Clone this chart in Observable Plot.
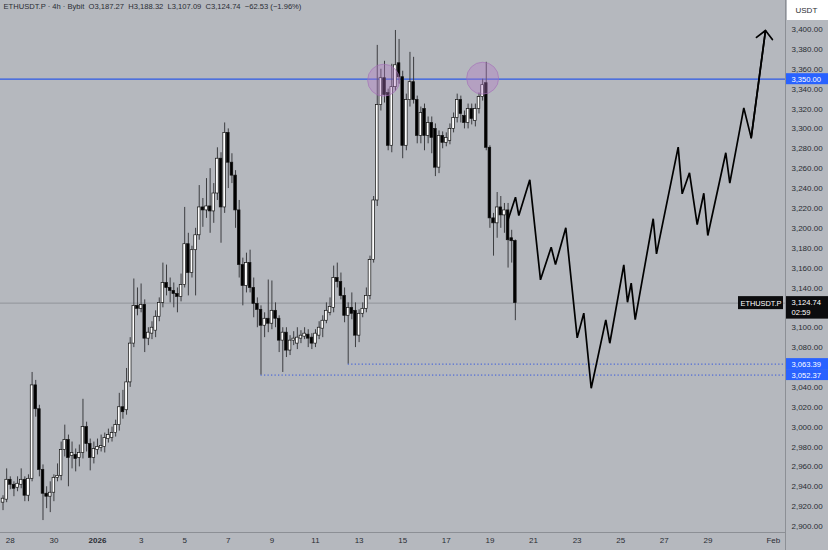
<!DOCTYPE html>
<html><head><meta charset="utf-8">
<script src="https://cdn.jsdelivr.net/npm/d3@7"></script>
<script src="https://cdn.jsdelivr.net/npm/@observablehq/plot@0.6"></script>
<style>
html,body{margin:0;padding:0;background:#b5b8be;}
#chart svg{display:block;}
</style></head><body><div id="chart"></div>
<script>
// ---- Data ----
const header = "ETHUSDT.P · 4h · Bybit  O3,187.27  H3,188.32  L3,107.09  C3,124.74  −62.53 (−1.96%)";
const firstBar = "2025-12-27T16:00:00Z";
const barHours = 4;
const opens = [2924,2927,2947,2942,2939,2942,2947,2931,2948,3042,3018,2957,2933,2930,2934,2949,2951,2977,2987,2971,2972,2969,2974,3000,2983,2969,2977,2979,2980,2988,2989,2994,3002,3020,3017,3045,3084,3122,3119,3123,3089,3094,3097,3111,3125,3145,3140,3137,3134,3131,3143,3184,3155,3178,3193,3221,3218,3222,3217,3235,3270,3221,3296,3266,3253,3218,3163,3142,3165,3140,3124,3118,3102,3109,3104,3117,3109,3087,3095,3077,3087,3084,3089,3091,3093,3090,3084,3092,3099,3107,3115,3120,3150,3146,3132,3112,3120,3117,3092,3114,3119,3132,3168,3228,3324,3351,3336,3283,3342,3366,3352,3283,3329,3347,3329,3293,3320,3293,3306,3300,3261,3293,3286,3288,3300,3311,3329,3313,3306,3320,3308,3320,3332,3346,3281,3210,3205,3221,3213,3218,3190,3187.27];
const highs = [2931,2958,2950,2945,2950,2958,2950,2952,3055,3047,3022,2962,2940,2945,2952,2963,2985,3002,2992,2985,2978,2982,3028,3005,2988,2985,2988,2992,2994,2998,3000,3007,3034,3037,3059,3090,3149,3140,3144,3128,3100,3106,3117,3130,3165,3163,3150,3145,3140,3154,3221,3195,3182,3200,3243,3230,3250,3260,3245,3281,3276,3306,3300,3275,3258,3228,3170,3175,3178,3150,3130,3122,3115,3148,3147,3125,3112,3100,3100,3092,3096,3100,3097,3100,3098,3094,3098,3106,3112,3125,3130,3162,3165,3155,3140,3125,3135,3125,3118,3125,3140,3172,3232,3384,3360,3368,3340,3365,3399,3390,3358,3335,3377,3372,3333,3322,3325,3312,3312,3305,3298,3297,3296,3305,3316,3335,3333,3318,3325,3325,3325,3336,3350,3367,3283,3215,3236,3232,3225,3225,3198,3188.32];
const lows = [2916,2924,2937,2930,2935,2938,2925,2925,2945,3010,2950,2906,2918,2914,2925,2945,2946,2970,2940,2958,2955,2960,2968,2975,2956,2963,2972,2975,2974,2984,2985,2990,2996,3008,3012,3040,3080,3112,3115,3075,3082,3088,3090,3106,3120,3132,3125,3120,3115,3126,3140,3132,3150,3132,3188,3201,3210,3195,3205,3228,3185,3215,3240,3245,3200,3150,3122,3135,3135,3110,3100,3052.37,3090,3095,3098,3100,3075,3055,3070,3072,3082,3078,3084,3088,3080,3078,3080,3088,3090,3104,3112,3115,3140,3128,3105,3063.39,3108,3080,3085,3110,3115,3128,3165,3222,3318,3326,3278,3276,3338,3345,3270,3278,3322,3325,3285,3285,3278,3285,3275,3252,3255,3280,3282,3284,3296,3306,3306,3300,3300,3304,3302,3315,3328,3278,3200,3172,3190,3200,3195,3160,3165,3107.09];
const closes = [2928,2947,2942,2938,2943,2947,2931,2948,3042,3018,2957,2933,2930,2934,2949,2951,2977,2987,2969,2974,2968,2974,3000,2983,2969,2978,2980,2981,2989,2992,2994,3002,3020,3015,3045,3084,3122,3119,3123,3089,3095,3100,3111,3125,3145,3140,3137,3134,3131,3143,3184,3155,3178,3193,3221,3218,3222,3217,3235,3270,3221,3296,3266,3253,3218,3163,3142,3165,3140,3124,3118,3102,3109,3104,3117,3109,3087,3095,3077,3087,3089,3090,3092,3094,3089,3084,3094,3100,3107,3117,3121,3150,3146,3132,3112,3120,3114,3092,3114,3119,3132,3168,3228,3324,3351,3334,3283,3342,3364,3352,3283,3329,3347,3329,3293,3316,3293,3306,3291,3261,3293,3286,3291,3300,3311,3329,3315,3306,3320,3310,3320,3332,3344,3281,3210,3205,3221,3213,3218,3188,3187,3124.74];

const projDates = ["2026-01-19T19:42Z","2026-01-20T04:10Z","2026-01-20T07:50Z","2026-01-20T19:55Z","2026-01-21T07:42Z","2026-01-21T19:29Z","2026-01-22T00:13Z","2026-01-22T11:34Z","2026-01-23T00:07Z","2026-01-23T07:22Z","2026-01-23T15:32Z","2026-01-24T07:36Z","2026-01-24T12:00Z","2026-01-25T03:25Z","2026-01-25T07:29Z","2026-01-25T11:34Z","2026-01-25T15:58Z","2026-01-26T11:47Z","2026-01-26T15:25Z","2026-01-27T15:18Z","2026-01-27T19:42Z","2026-01-28T03:44Z","2026-01-28T12:13Z","2026-01-28T19:29Z","2026-01-28T23:53Z","2026-01-29T19:42Z","2026-01-30T00:07Z","2026-01-30T15:32Z","2026-01-30T23:40Z","2026-01-31T15:25Z"];
const projPrices = [3207.8,3231.3,3212.9,3248.8,3148.2,3181,3163.6,3200.5,3089.8,3114.6,3039.1,3107.9,3084.4,3163.3,3125.6,3144.8,3108.2,3209.6,3174.3,3281.6,3234.7,3255.8,3203.8,3235.3,3192.8,3276,3245.4,3321.2,3291,3399];

const resistance = 3350;
const lastPrice = 3124.74;
const lastPriceLabel = "3,124.74";
const countdown = "02:59";
const symbolLabel = "ETHUSDT.P";
const currencyLabel = "USDT";
const supportLevels = [3063.39, 3052.37];
const supportFrom = ["2026-01-12T12:00:00Z", "2026-01-08T12:00:00Z"];
const circleDates = ["2026-01-14T03:00:00Z", "2026-01-18T16:00:00Z"];
const circlePrices = [3349, 3351];

const xTickDates = ["2025-12-28","2025-12-30","2026-01-01","2026-01-03","2026-01-05","2026-01-07","2026-01-09","2026-01-11","2026-01-13","2026-01-15","2026-01-17","2026-01-19","2026-01-21","2026-01-23","2026-01-25","2026-01-27","2026-01-29","2026-02-01"];
const xTickLabels = ["28","30","2026","3","5","7","9","11","13","15","17","19","21","23","25","27","29","Feb"];
// 3,060 and 3,120 are hidden behind the price labels in the reference
const yTicks = [2900,2920,2940,2960,2980,3000,3020,3040,3080,3100,3140,3160,3180,3200,3220,3240,3260,3280,3300,3320,3340,3360,3380,3400];

const xDomain = [new Date("2025-12-27T13:13:00Z"), new Date("2026-02-01T13:26:00Z")];
const yDomain = [2894, 3429.17];

// ---- Build tables ----
const t0 = Date.parse(firstBar);
const candles = opens.map((o, i) => ({
  date: new Date(t0 + i * barHours * 3600e3),
  open: o, high: highs[i], low: lows[i], close: closes[i]
}));
const halfBar = 1.45 * 3600e3;
const proj = projDates.map((d, i) => ({date: new Date(d), price: projPrices[i]}));
const lastSeg = [{x1: proj[proj.length - 2].date, y1: proj[proj.length - 2].price, x2: proj[proj.length - 1].date, y2: proj[proj.length - 1].price}];
const supports = supportLevels.map((p, i) => ({p, from: new Date(supportFrom[i])}));
const circles = circleDates.map((d, i) => ({date: new Date(d), price: circlePrices[i]}));
const ticks = xTickDates.map((d, i) => ({date: new Date(d + "T00:00:00Z"), label: xTickLabels[i]}));
const labelOf = new Map(ticks.map(t => [+t.date, t.label]));
const normalTicks = ticks.filter(t => t.label !== "2026").map(t => t.date);
const boldTicks = ticks.filter(t => t.label === "2026").map(t => t.date);
const xEnd = () => xDomain[1];

const blueBoxes = [
  {v: resistance, t: d3.format(",.2f")(resistance)},
  {v: supportLevels[0], t: d3.format(",.2f")(supportLevels[0])},
  {v: supportLevels[1], t: d3.format(",.2f")(supportLevels[1])}
];

const FONT = "'Liberation Sans', Arial, sans-serif";
const TXT = "#2a2d34";

const chart = Plot.plot({
  width: 828, height: 550,
  marginLeft: 0, marginRight: 43, marginTop: 0, marginBottom: 18,
  style: {background: "#b5b8be", fontFamily: FONT, fontSize: "8px", overflow: "visible"},
  x: {type: "utc", domain: xDomain, label: null},
  y: {domain: yDomain, label: null},
  marks: [
    // separators
    Plot.ruleY([yDomain[0]], {stroke: "#8c8f95", strokeWidth: 1}),
    Plot.ruleX([xDomain[1]], {stroke: "#8c8f95", strokeWidth: 1, insetBottom: -18}),
    // axes
    Plot.axisY(yTicks, {anchor: "right", tickSize: 0, tickPadding: 6, tickFormat: d3.format(",.2f"), fontSize: 8, fill: TXT}),
    Plot.axisX(normalTicks, {anchor: "bottom", tickSize: 0, tickPadding: 5, tickFormat: d => labelOf.get(+d), fontSize: 8, fill: TXT}),
    Plot.axisX(boldTicks, {anchor: "bottom", tickSize: 0, tickPadding: 5, tickFormat: d => labelOf.get(+d), fontSize: 8, fontWeight: "bold", fill: TXT}),
    // levels
    Plot.ruleY([lastPrice], {stroke: "#878a90", strokeWidth: 0.8}),
    Plot.ruleY(supports, {y: "p", x1: "from", x2: xEnd, stroke: "#3557dd", strokeWidth: 1, strokeDasharray: "1.3,2.2"}),
    Plot.ruleY([resistance], {stroke: "#2c59e6", strokeWidth: 1.2}),
    // candles
    Plot.ruleX(candles, {x: "date", y1: "low", y2: "high", stroke: "#3c3d40", strokeWidth: 1}),
    Plot.rect(candles, {
      x1: d => new Date(+d.date - halfBar), x2: d => new Date(+d.date + halfBar),
      y1: "open", y2: "close",
      fill: d => d.close >= d.open ? "#ffffff" : "#000000",
      stroke: "#111111", strokeWidth: 0.7
    }),
    // circles
    Plot.dot(circles, {x: "date", y: "price", r: 16, fill: "#b47ac6", fillOpacity: 0.38, stroke: "#a46cb8", strokeOpacity: 0.6, strokeWidth: 1}),
    // projection
    Plot.line(proj, {x: "date", y: "price", stroke: "#000000", strokeWidth: 1.7, strokeLinejoin: "miter"}),
    Plot.arrow(lastSeg, {x1: "x1", y1: "y1", x2: "x2", y2: "y2", stroke: "#000000", strokeWidth: 1.7, headLength: 10, headAngle: 90}),
    // header
    Plot.text([header], {frameAnchor: "top-left", dx: 3, dy: 3, fontSize: 7.6, fill: TXT}),
    // USDT box
    Plot.rect([0], {x1: xEnd, x2: xEnd, y1: () => yDomain[1], y2: () => yDomain[1], insetLeft: 2, insetRight: -43, insetBottom: -20, fill: "#ffffff"}),
    Plot.text([currencyLabel], {x: xEnd, y: () => yDomain[1], dx: 10, dy: 10, textAnchor: "start", fontSize: 8, fill: TXT}),
    // blue boxes
    Plot.rect(blueBoxes, {x1: xEnd, x2: xEnd, y1: "v", y2: "v", insetLeft: 1, insetRight: -43, insetTop: -5.5, insetBottom: -5.5, fill: "#2962ff"}),
    Plot.text(blueBoxes, {x: xEnd, y: "v", text: "t", dx: 6, textAnchor: "start", fontSize: 7.6, fill: "#ffffff"}),
    // last price boxes
    Plot.rect([lastPrice], {x1: xEnd, x2: xEnd, y1: d => d, y2: d => d, insetLeft: 1, insetRight: -43, insetTop: -6.5, insetBottom: -16, fill: "#0c0c0e"}),
    Plot.text([lastPriceLabel], {x: xEnd, y: () => lastPrice, dx: 6, dy: -1, textAnchor: "start", fontSize: 7.6, fill: "#ffffff"}),
    Plot.text([countdown], {x: xEnd, y: () => lastPrice, dx: 6, dy: 9.5, textAnchor: "start", fontSize: 7.6, fill: "#ffffff"}),
    Plot.rect([lastPrice], {x1: xEnd, x2: xEnd, y1: d => d, y2: d => d, insetLeft: -47, insetRight: 2, insetTop: -6.5, insetBottom: -6.5, fill: "#0c0c0e"}),
    Plot.text([symbolLabel], {x: xEnd, y: () => lastPrice, dx: -24.5, textAnchor: "middle", fontSize: 7.4, fill: "#ffffff"})
  ]
});
document.getElementById("chart").appendChild(chart);
</script>
</body></html>
